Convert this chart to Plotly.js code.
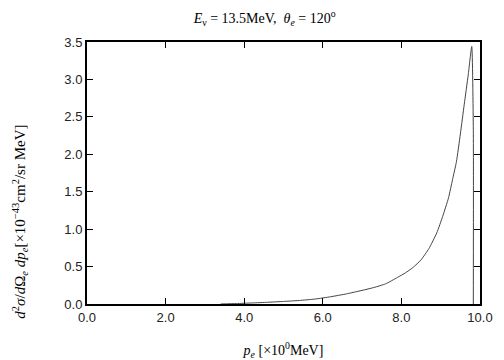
<!DOCTYPE html>
<html><head><meta charset="utf-8">
<script src="https://cdn.plot.ly/plotly-3.0.1.min.js"></script>
<style>body{margin:0;background:#fff}#c{width:504px;height:360px}</style>
</head><body><div id="c"></div>
<script>
const pe = [3.4, 3.8, 4.2, 4.6, 5.0, 5.4, 5.8, 6.2, 6.6, 7.0, 7.3, 7.6, 7.9, 8.1, 8.3, 8.5, 8.7, 8.9, 9.05, 9.2, 9.3, 9.4, 9.5, 9.6, 9.7, 9.79, 9.83, 9.83];
const xsec = [0, 0.006, 0.014, 0.023, 0.034, 0.047, 0.066, 0.097, 0.135, 0.182, 0.22, 0.27, 0.355, 0.415, 0.49, 0.59, 0.74, 0.95, 1.17, 1.42, 1.66, 1.90, 2.27, 2.67, 3.06, 3.44, 2.32, 0];
const xTicks = [0, 2, 4, 6, 8, 10];
const yTicks = [0, 0.5, 1.0, 1.5, 2.0, 2.5, 3.0, 3.5];

const serif = 'Liberation Serif, Times New Roman, serif';
const sans = 'Liberation Sans, Arial, sans-serif';
const axBase = {
  showline: true, linecolor: '#000', linewidth: 2, mirror: 'ticks',
  ticks: 'inside', ticklen: 6, tickcolor: '#000', tickwidth: 1,
  showgrid: false, zeroline: false, tickformat: '.1f',
  tickfont: {family: sans, size: 13, color: '#222'}
};
Plotly.newPlot('c', [{
  x: pe, y: xsec, type: 'scatter', mode: 'lines',
  line: {color: '#444', width: 1, shape: 'spline', smoothing: 0.5}, hoverinfo: 'skip'
}], {
  width: 504, height: 360,
  margin: {l: 87, r: 24, t: 42, b: 56},
  paper_bgcolor: '#fff', plot_bgcolor: '#fff',
  showlegend: false,
  title: {text: '<i>E</i><sub>ν</sub> = 13.5MeV,  <i>θ</i><sub><i>e</i></sub> = 120<sup>o</sup>',
    font: {family: serif, size: 14, color: '#000'},
    x: 0.525, xanchor: 'center', y: 0.95, yanchor: 'middle', yref: 'container'},
  xaxis: Object.assign({}, axBase, {range: [0, 10], tickvals: xTicks,
    title: {text: '<i>p</i><sub><i>e</i></sub> [×10<sup>0</sup>MeV]', font: {family: serif, size: 14, color: '#000'}, standoff: 28}}),
  yaxis: Object.assign({}, axBase, {range: [0, 3.5], tickvals: yTicks}),
  annotations: [{
    text: '<i>d</i><sup>2</sup><i>σ</i>/<i>d</i>Ω<sub><i>e</i></sub> <i>dp</i><sub><i>e</i></sub>[×10<sup>−43</sup>cm<sup>2</sup>/sr MeV]',
    font: {family: serif, size: 15, color: '#000'},
    xref: 'paper', yref: 'paper', x: -0.17, y: 0.315,
    xanchor: 'center', yanchor: 'middle', textangle: -90, showarrow: false
  }]
}, {staticPlot: true});
</script></body></html>
